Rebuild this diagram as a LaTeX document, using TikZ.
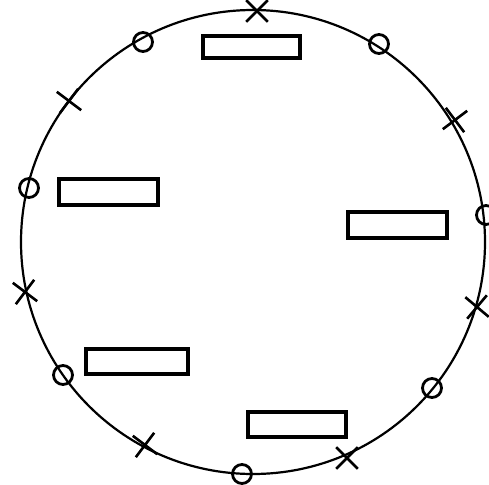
\documentclass[tikz,border=0pt]{standalone}
\usetikzlibrary{shapes.misc}
\begin{document}
\begin{tikzpicture}[x=1pt,y=-1pt,
  ring/.style={line width=2.2pt},
  bar/.style={draw,line width=3.2pt,inner sep=0pt},
  omark/.style={draw,circle,line width=2.8pt,minimum size=19pt,inner sep=0pt,fill=none},
  xmark/.style={draw,cross out,line width=2.6pt,minimum size=19pt,inner sep=0pt}]
\useasboundingbox (0,0) rectangle (489,484);
\draw[ring] (253,242) circle[radius=232];
% bars
\node[bar,minimum width=97pt,minimum height=22pt] (b1) at (251.5,47) {};
\node[bar,minimum width=99pt,minimum height=26pt] (b2) at (108.5,192) {};
\node[bar,minimum width=99pt,minimum height=26pt] (b3) at (397.5,225) {};
\node[bar,minimum width=102pt,minimum height=25pt] (b4) at (137,361.5) {};
\node[bar,minimum width=98pt,minimum height=25pt] (b5) at (297,424.5) {};
% circles on ring
\node[omark] (o1) at (143,42) {};
\node[omark] (o2) at (379,44) {};
\node[omark] (o3) at (29,188) {};
\node[omark] (o4) at (486,215) {};
\node[omark] (o5) at (63,375) {};
\node[omark] (o6) at (432,388) {};
\node[omark] (o7) at (242,474) {};
% crosses on ring
\node[xmark] (x1) at (257,11) {};
\node[xmark,rotate=8] (x2) at (69,101) {};
\node[xmark,rotate=-8] (x3) at (455,120) {};
\node[xmark,rotate=8] (x4) at (25,292) {};
\node[xmark,rotate=5] (x5) at (477,307) {};
\node[xmark,rotate=8] (x6) at (145,445) {};
\node[xmark] (x7) at (347,458) {};
\end{tikzpicture}
\end{document}
